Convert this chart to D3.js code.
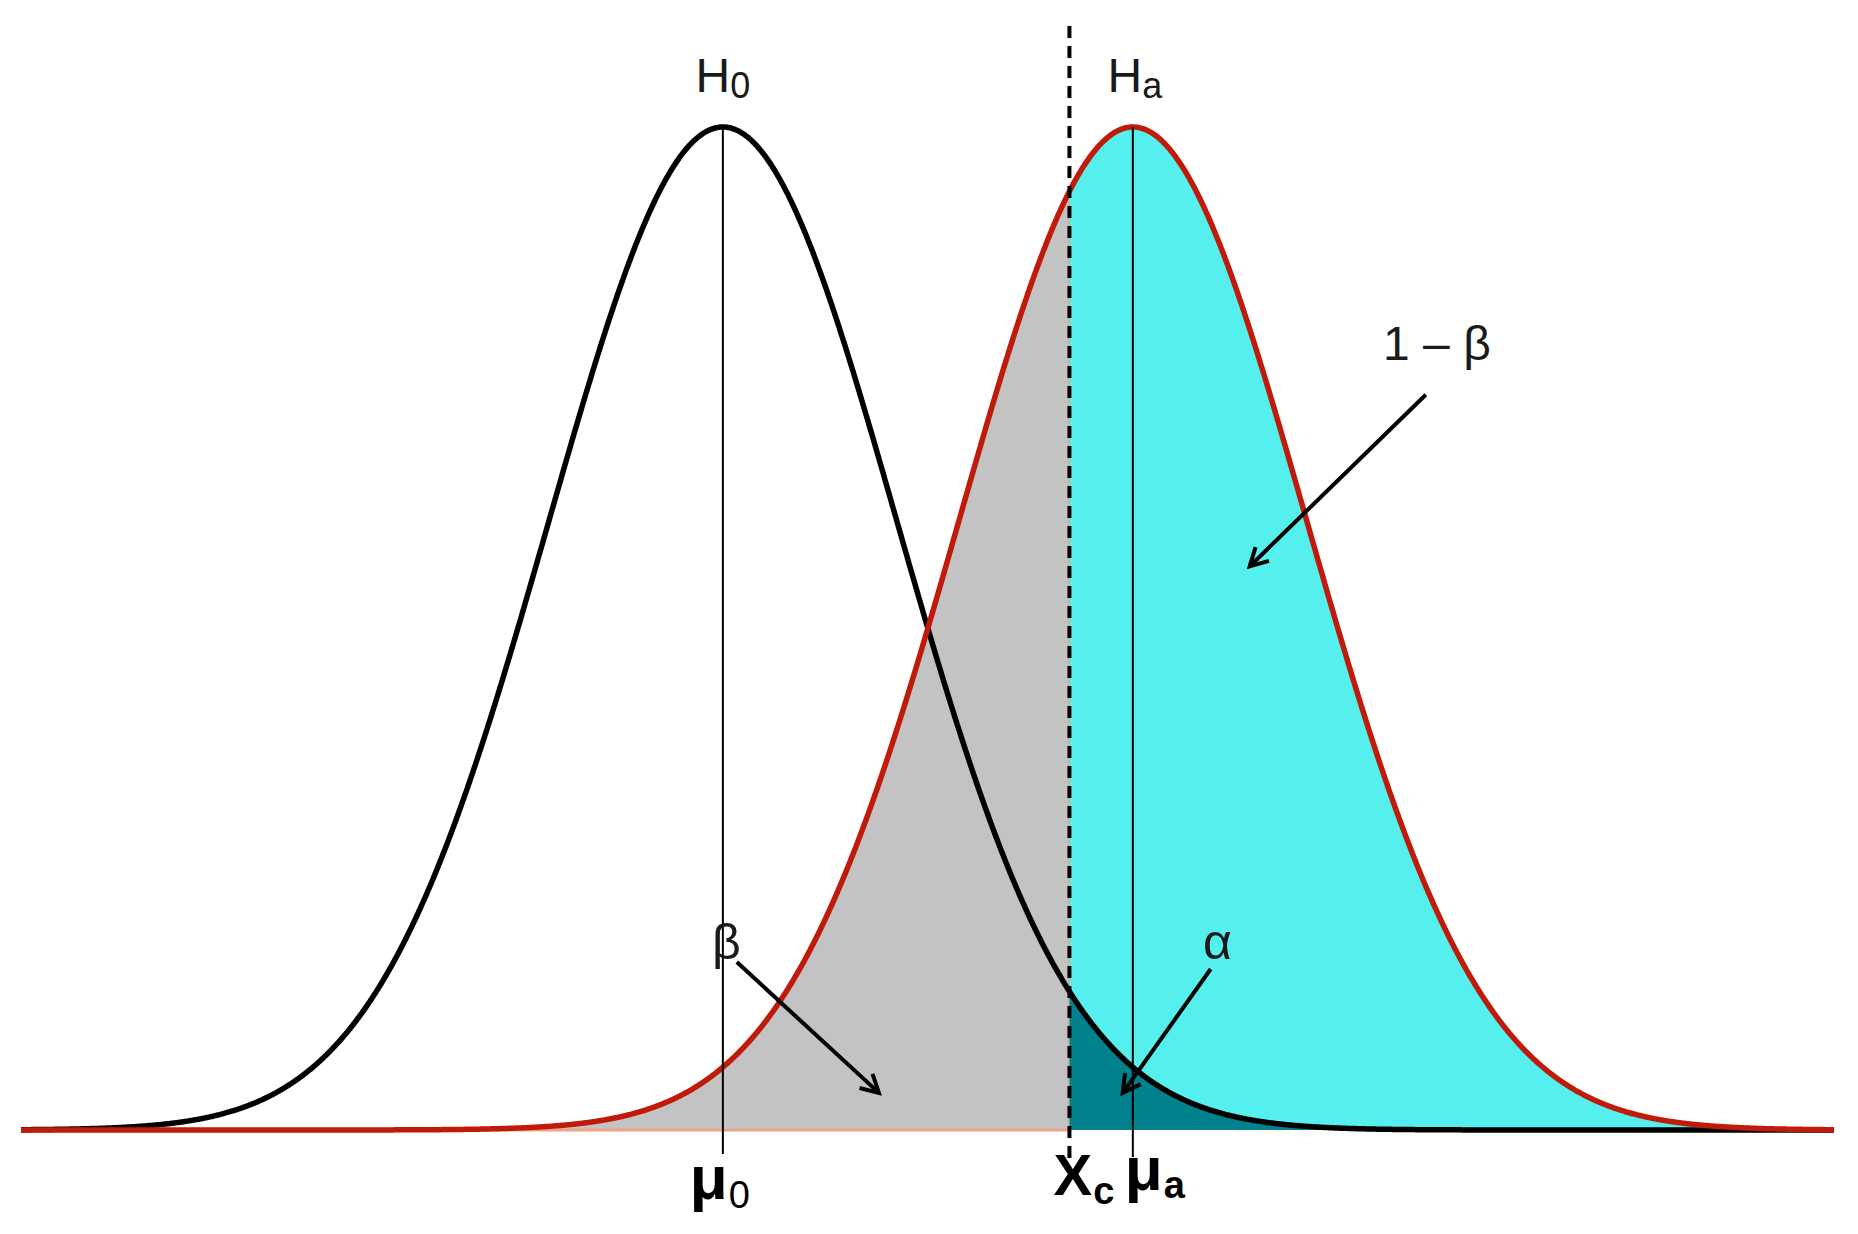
<!DOCTYPE html>
<html>
<head>
<meta charset="utf-8">
<script src="https://cdn.jsdelivr.net/npm/d3@7"></script>
<style>
  html, body { margin: 0; padding: 0; background: #fff; }
  svg { display: block; }
</style>
</head>
<body>
<svg id="chart" width="1858" height="1234"></svg>
<script>
// ---- data (in units of sigma, relative density) ----
const hypotheses = ["H0", "Ha"];
const means = [0, 2.354];          // μ0, μa
const sigmas = [1, 1];
const criticalValue = [1.99];      // Xc
const xDomain = [-4.03, 6.38];
const yDomain = [0, 1];
const bottomLabels = ["μ", "X", "μ"];
const bottomSubs = ["0", "c", "a"];
// annotation arrows in data units
const arrowStarts = [[4.036, 0.733], [0.080, 0.1675], [2.801, 0.1605]];
const arrowEnds   = [[3.025, 0.562], [0.896, 0.037], [2.296, 0.037]];
const annoTexts = ["1 – β", "β", "α"];
const annoPos = [[4.10, 0.768], [0.02, 0.170], [2.84, 0.170]];

// ---- layout ----
const svg = d3.select("#chart");
const x = d3.scaleLinear().domain(xDomain).range([21, 1834]);
const y = d3.scaleLinear().domain(yDomain).range([1130, 127]);

const step = 0.005;
const xs = d3.range(xDomain[0], xDomain[1] + step / 2, step);
const pdf = (v, m, s) => Math.exp(-0.5 * ((v - m) / s) ** 2);
const h0 = xs.map(v => ({ x: v, y: pdf(v, means[0], sigmas[0]) }));
const ha = xs.map(v => ({ x: v, y: pdf(v, means[1], sigmas[1]) }));
const xc = criticalValue[0];

const area = d3.area().x(d => x(d.x)).y0(y(0)).y1(d => y(d.y));
const line = d3.line().x(d => x(d.x)).y(d => y(d.y));

// beta region (gray): Ha left of Xc
const leftPart = ha.filter(d => d.x <= xc).concat([{ x: xc, y: pdf(xc, means[1], sigmas[1]) }]);
svg.append("path").datum(leftPart).attr("d", area)
  .attr("fill", "#c3c3c3").attr("stroke", "#eea486").attr("stroke-width", 3);

// power region (cyan): Ha right of Xc
const rightHa = [{ x: xc, y: pdf(xc, means[1], sigmas[1]) }].concat(ha.filter(d => d.x >= xc));
svg.append("path").datum(rightHa).attr("d", area).attr("fill", "#55f0ee");

// alpha region (teal): H0 right of Xc
const rightH0 = [{ x: xc, y: pdf(xc, means[0], sigmas[0]) }].concat(h0.filter(d => d.x >= xc));
svg.append("path").datum(rightH0).attr("d", area).attr("fill", "#00818c");

// curves
svg.append("path").datum(h0).attr("d", line)
  .attr("fill", "none").attr("stroke", "#000").attr("stroke-width", 5.5);
svg.append("path").datum(ha).attr("d", line)
  .attr("fill", "none").attr("stroke", "#c01a0a").attr("stroke-width", 5.5);

// mean lines
means.forEach((m, i) => {
  svg.append("line")
    .attr("x1", x(m)).attr("x2", x(m))
    .attr("y1", y(1)).attr("y2", y(0) + (i === 0 ? 24 : 27))
    .attr("stroke", "#000").attr("stroke-width", 2);
});

// critical value dashed line
svg.append("line")
  .attr("x1", x(xc)).attr("x2", x(xc))
  .attr("y1", 26).attr("y2", y(0) + 34)
  .attr("stroke", "#000").attr("stroke-width", 4)
  .attr("stroke-dasharray", "12,8");

// arrows
arrowStarts.forEach((s, i) => {
  const e = arrowEnds[i];
  const x0 = x(s[0]), y0 = y(s[1]), x1 = x(e[0]), y1 = y(e[1]);
  svg.append("line").attr("x1", x0).attr("y1", y0).attr("x2", x1).attr("y2", y1)
    .attr("stroke", "#000").attr("stroke-width", 4);
  const ang = Math.atan2(y1 - y0, x1 - x0);
  const L = 20, spread = 0.5;
  const p1 = [x1 - L * Math.cos(ang - spread), y1 - L * Math.sin(ang - spread)];
  const p2 = [x1 - L * Math.cos(ang + spread), y1 - L * Math.sin(ang + spread)];
  svg.append("path")
    .attr("d", `M${p1[0]},${p1[1]} L${x1},${y1} L${p2[0]},${p2[1]}`)
    .attr("fill", "none").attr("stroke", "#000").attr("stroke-width", 4);
});

const font = "'Liberation Sans', Arial, sans-serif";

// hypothesis labels
hypotheses.forEach((h, i) => {
  const t = svg.append("text")
    .attr("x", x(means[i]) + (i === 0 ? 0 : 2)).attr("y", y(1.035))
    .attr("text-anchor", "middle")
    .attr("font-family", font).attr("font-size", 48).attr("fill", "#1a1a1a");
  t.append("tspan").text(h[0]);
  t.append("tspan").text(h.slice(1)).attr("font-size", 36).attr("dy", 6);
});

// annotation labels
annoTexts.forEach((a, i) => {
  svg.append("text")
    .attr("x", x(annoPos[i][0])).attr("y", y(annoPos[i][1]))
    .attr("text-anchor", "middle")
    .attr("font-family", font).attr("font-size", i === 0 ? 48 : 50).attr("fill", "#1a1a1a")
    .text(a);
});

// bottom labels (μ0, Xc, μa)
const bottomAnchors = [x(means[0]), x(xc), x(means[1])];
const mainDx = [-33, -16, -8];
const mainBase = [1199, 1195, 1190];
const mainSize = [62, 58, 62];
const subDy = [9, 9, 8];
const subSize = [38, 38, 38];
const subWeight = ["normal", "bold", "bold"];
bottomLabels.forEach((b, i) => {
  const t = svg.append("text")
    .attr("x", bottomAnchors[i] + mainDx[i]).attr("y", mainBase[i])
    .attr("text-anchor", "start")
    .attr("font-family", font).attr("font-weight", "bold")
    .attr("font-size", mainSize[i]).attr("fill", "#000");
  t.append("tspan").text(b);
  t.append("tspan").text(bottomSubs[i]).attr("font-size", subSize[i])
    .attr("dy", subDy[i]).attr("dx", 1).attr("font-weight", subWeight[i]);
});
</script>
</body>
</html>
